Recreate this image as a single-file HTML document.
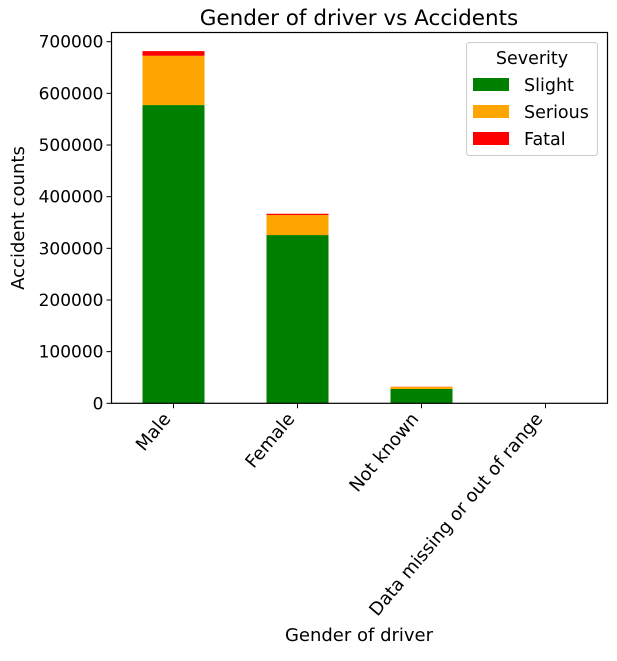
<!DOCTYPE html>
<html><head><meta charset="utf-8"><style>
body{margin:0;background:#fff;}
svg text{font-family:"DejaVu Sans","Liberation Sans",sans-serif;fill:#000;}
</style></head><body>
<svg id="chart" width="617" height="656" xmlns="http://www.w3.org/2000/svg">
<rect width="617" height="656" fill="#fff"/>
<text x="359" y="25" font-size="21.5" text-anchor="middle">Gender of driver vs Accidents</text>
<g id="plot"></g>
<text transform="translate(24,218) rotate(-90)" font-size="18" text-anchor="middle">Accident counts</text>
<text x="359" y="641" font-size="18" text-anchor="middle">Gender of driver</text>
<g>
<rect x="466.5" y="42.5" width="131" height="113" rx="3" fill="#fff" stroke="#ccc"/>
<text x="532" y="64" font-size="17.5" text-anchor="middle">Severity</text>
<rect x="473" y="78" width="36" height="13" fill="#008000"/>
<text x="524" y="91" font-size="17.5">Slight</text>
<rect x="473" y="105" width="36" height="13" fill="#ffa500"/>
<text x="524" y="118" font-size="17.5">Serious</text>
<rect x="473" y="132" width="36" height="13" fill="#ff0000"/>
<text x="524" y="145" font-size="17.5">Fatal</text>
</g>
</svg>
<script>
const categories=["Male","Female","Not known","Data missing or out of range"];
const slight=[577300,325700,27700,0];
const serious=[95400,38700,3900,0];
const fatal=[9100,2500,400,0];
const yTicks=[0,100000,200000,300000,400000,500000,600000,700000];
const L=111.5,R=607.5,T=32.5,B=403.3;
function y(v){return B-(v/700000)*(B-41.7);}
function xc(i){return L+(R-L)/categories.length*(i+0.5);}
const bw=62;
const g=document.getElementById('plot');
const NS="http://www.w3.org/2000/svg";
function mk(t,a){const e=document.createElementNS(NS,t);for(const k in a)e.setAttribute(k,a[k]);g.appendChild(e);return e;}
const series=[[slight,"#008000","slight"],[serious,"#ffa500","serious"],[fatal,"#ff0000","fatal"]];
categories.forEach((c,i)=>{
  let base=0;
  series.forEach(([arr,col,nm])=>{
    const v=arr[i];
    const r=mk('rect',{x:xc(i)-bw/2,y:y(base+v),width:bw,height:Math.max(0,y(base)-y(base+v)),fill:col});
    
    
    base+=v;
  });
  const tk=mk('line',{x1:xc(i),x2:xc(i),y1:B,y2:B+5,stroke:'#000','stroke-width':1});
  
  
  const t=mk('text',{transform:`translate(${xc(i)-2},${B+16}) rotate(-50)`,'font-size':18,'text-anchor':'end'});
  t.textContent=c;
  
  
});
yTicks.forEach(v=>{
  const tk=mk('line',{x1:L-5,x2:L,y1:y(v),y2:y(v),stroke:'#000','stroke-width':1});
  
  
  const t=mk('text',{x:L-8,y:y(v)+6,'font-size':17,'text-anchor':'end'});
  t.textContent=v;
  
  
});
const fr=mk('rect',{x:L,y:T,width:R-L,height:B-T,fill:'none',stroke:'#000','stroke-width':1.2});


</script>
</body></html>
